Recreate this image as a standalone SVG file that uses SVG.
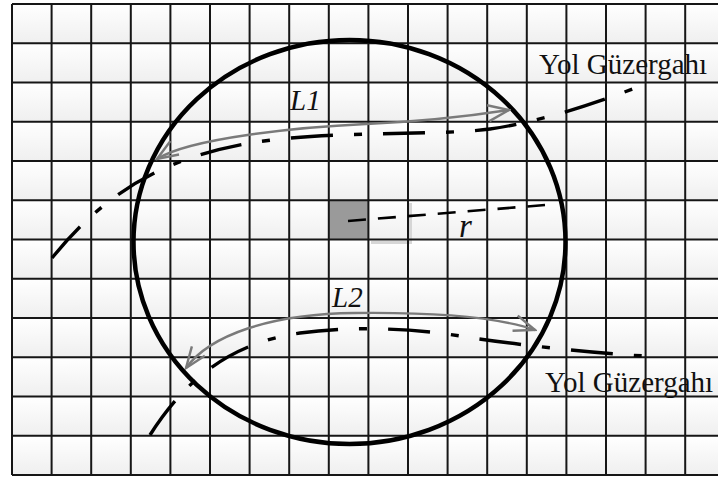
<svg xmlns="http://www.w3.org/2000/svg" width="718" height="477" viewBox="0 0 718 477">
<defs>
<linearGradient id="cellg" x1="0" y1="0" x2="0" y2="1">
<stop offset="0" stop-color="#ffffff"/>
<stop offset="1" stop-color="#efefef"/>
</linearGradient>
<pattern id="cells" patternUnits="userSpaceOnUse" x="12" y="4" width="39.6" height="39.25">
<rect x="0" y="0" width="39.6" height="39.25" fill="url(#cellg)"/>
</pattern>
<marker id="arr" markerUnits="userSpaceOnUse" viewBox="-24 -11 26 22" refX="0" refY="0" markerWidth="26" markerHeight="22" orient="auto-start-reverse">
<path d="M-21,-8 L0,0 L-21,8" fill="none" stroke="#7a7a7a" stroke-width="2.4"/>
</marker>
</defs>
<style>
.grid{stroke:#161616;stroke-width:2;fill:none}
.road{fill:none;stroke:#000;stroke-width:3.4;stroke-dasharray:42 21 8 21}
.len{fill:none;stroke:#7a7a7a;stroke-width:2.4}
.lbl{font-family:"Liberation Serif","Times New Roman",serif;fill:#111}
.it{font-style:italic;font-size:29px}
.road-t{font-size:29px}
</style>
<rect width="718" height="477" fill="#fff"/>
<g id="grid">
<rect x="12" y="4" width="706" height="471" fill="url(#cells)"/>
<path d="M371,242.5 H410.5 V203" fill="none" stroke="#d6d6d6" stroke-width="3"/>
<rect id="center-cell" x="328.8" y="200.25" width="39.6" height="39.25" fill="#9a9a9a"/>
<path class="grid" d="M12,4V475M51.6,4V475M91.2,4V475M130.8,4V475M170.4,4V475M210,4V475M249.6,4V475M289.2,4V475M328.8,4V475M368.4,4V475M408,4V475M447.6,4V475M487.2,4V475M526.8,4V475M566.4,4V475M606,4V475M645.6,4V475M685.2,4V475"/>
<path class="grid" d="M12,4H718M12,43.25H718M12,82.5H718M12,121.75H718M12,161H718M12,200.25H718M12,239.5H718M12,278.75H718M12,318H718M12,357.25H718M12,396.5H718M12,435.75H718M12,475H718"/>
</g>
<g id="influence-circle">
<ellipse cx="349.5" cy="242" rx="216" ry="202" fill="none" stroke="#000" stroke-width="4.5"/>
</g>
<g id="connectors">
<path id="road-upper" class="road" d="M52,258 C95,205 150,160 250,143 C330,130 440,136 490,129 C540,122 600,102 640,86"/>
<path id="road-lower" class="road" d="M150,435 C185,380 230,343 300,333 C350,326 410,328 460,336 C510,344 590,353 645,356"/>
<path id="radius" d="M348,221 L545,205" fill="none" stroke="#000" stroke-width="2.6" stroke-dasharray="18 12"/>
<path id="arc-L1" class="len" d="M157,159 C190,138 300,127 366,124 S470,116 509,110" marker-start="url(#arr)" marker-end="url(#arr)"/>
<path id="arc-L2" class="len" d="M186,368 C210,335 270,314 355,313 S500,318 535,330" marker-start="url(#arr)" marker-end="url(#arr)"/>
</g>
<g id="label-L1"><text class="lbl it" x="290" y="110">L1</text></g>
<g id="label-L2"><text class="lbl it" x="332" y="306.5">L2</text></g>
<g id="label-r"><text class="lbl" x="459" y="237" font-style="italic" font-size="33">r</text></g>
<g id="label-road-upper"><text class="lbl road-t" x="539" y="74">Yol Güzergahı</text></g>
<g id="label-road-lower"><text class="lbl road-t" x="545" y="392">Yol Güzergahı</text></g>
</svg>
